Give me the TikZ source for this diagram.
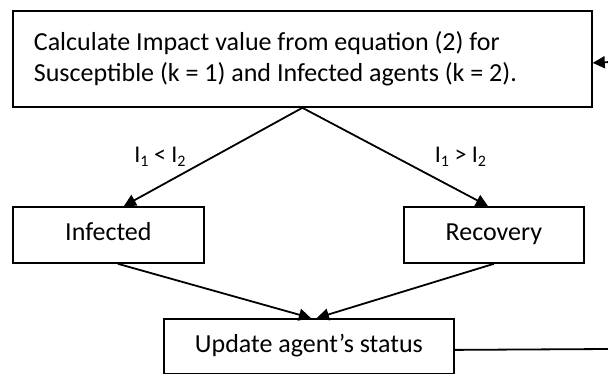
\documentclass[tikz,border=0pt]{standalone}
\usepackage{fontspec}
\setmainfont{Carlito}
\usetikzlibrary{arrows.meta}
\newcommand{\subn}[1]{\raisebox{-4pt}{\fontsize{16}{16}\selectfont #1}}
\begin{document}
\begin{tikzpicture}[x=1pt,y=-1pt,
  box/.style={draw,line width=1.8pt,inner sep=0pt,anchor=north west,font=\fontsize{26}{31}\selectfont},
  one/.style={text height=18pt,text depth=6pt},
  conn/.style={line width=1.8pt,-{Triangle[length=12pt,width=12pt]}},
  lbl/.style={font=\fontsize{24}{28}\selectfont,anchor=base}]
\useasboundingbox (0,0) rectangle (608,374);
\node[box,minimum height=96pt,text width=537pt,inner xsep=21pt,align=flush left] (top) at (12,10)
  {Calculate Impact value from equation (2) for\\Susceptible (k = 1) and Infected agents (k = 2).};
\node[box,one,minimum width=191pt,minimum height=56pt] (inf) at (12,206) {Infected};
\node[box,one,minimum width=180pt,minimum height=56pt] (rec) at (403,206) {Recovery};
\node[box,one,minimum width=290pt,minimum height=55pt] (upd) at (163,318) {Update agent’s status};
\coordinate (e1) at (610,349);
\coordinate (e2) at (610,62);
\draw[conn] (top.south) -- ([xshift=15.5pt]inf.north);
\draw[conn] (top.south) -- ([xshift=-6pt]rec.north);
\draw[conn] ([xshift=9.5pt]inf.south) -- ([xshift=2pt]upd.north);
\draw[conn] (rec.south) -- ([xshift=8pt]upd.north);
\draw[line width=1.8pt] ([yshift=-3.5pt]upd.east) -- (e1);
\draw[conn] (e2) -- ([yshift=-4pt]top.east);
\node[lbl] (l1) at (160,163) {I\subn{1} < I\subn{2}};
\node[lbl] (l2) at (460.5,163) {I\subn{1} > I\subn{2}};
\end{tikzpicture}
\end{document}
